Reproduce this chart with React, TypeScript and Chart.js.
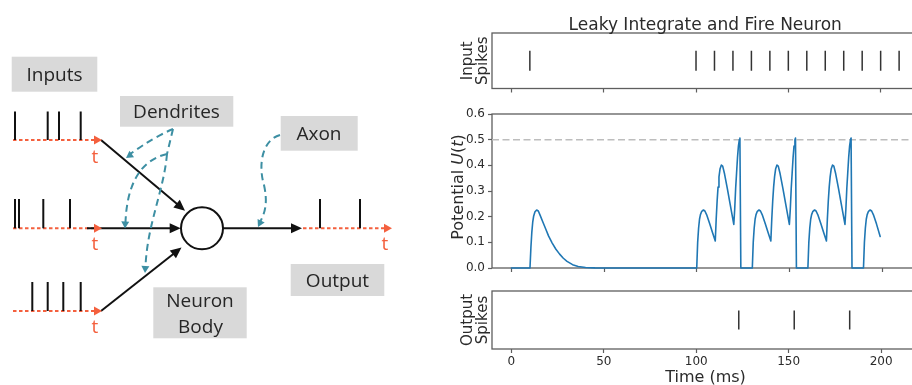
import React, { useEffect, useRef } from 'react';
import { Chart, registerables } from 'chart.js';

Chart.register(...registerables);

// ---------------- data ----------------
const chartTitle = 'Leaky Integrate and Fire Neuron';
const timeTicks = [0, 50, 100, 150, 200];
const potentialTicks = [0, 0.1, 0.2, 0.3, 0.4, 0.5, 0.6];
const inputSpikeTimes = [10, 100, 110, 120, 130, 140, 150, 160, 170, 180, 190, 200, 210];
const outputSpikeTimes = [123, 153, 183];
const threshold = 0.5;

const potentialTime = [
  0, 10, 10.5, 11, 11.5, 12, 12.7, 13.6, 14.5, 15.5, 17, 18.5, 20, 22, 24, 26, 28, 30, 33, 36, 40, 45, 50,
  100, 100.5, 101, 101.5, 102, 102.7, 103.6, 104.4, 105.5, 107, 108.5, 110,
  110.5, 111, 111.5, 112, 112.6, 113.3, 114, 115, 116.5, 118, 119, 120,
  120.5, 121, 121.5, 122, 122.5, 123, 123.3, 123.8,
  130, 130.5, 131, 131.5, 132, 132.7, 133.6, 134.4, 135.5, 137, 138.5, 140,
  140.5, 141, 141.5, 142, 142.6, 143.3, 144, 145, 146.5, 148, 149, 150,
  150.5, 151, 151.5, 152, 152.5, 153, 153.3, 153.8,
  160, 160.5, 161, 161.5, 162, 162.7, 163.6, 164.4, 165.5, 167, 168.5, 170,
  170.5, 171, 171.5, 172, 172.6, 173.3, 174, 175, 176.5, 178, 179, 180,
  180.5, 181, 181.5, 182, 182.5, 183, 183.3, 183.8,
  190, 190.5, 191, 191.5, 192, 192.7, 193.6, 194.4, 195.5, 197, 199,
];
const potentialValue = [
  0, 0, 0.08, 0.14, 0.18, 0.203, 0.219, 0.226, 0.222, 0.205, 0.178, 0.152, 0.125, 0.097, 0.073, 0.054, 0.038, 0.026, 0.013, 0.006, 0.002, 0.0005, 0,
  0, 0.1, 0.155, 0.19, 0.208, 0.221, 0.226, 0.222, 0.205, 0.172, 0.138, 0.105,
  0.19, 0.26, 0.315, 0.355, 0.387, 0.401, 0.397, 0.367, 0.31, 0.25, 0.21, 0.17,
  0.23, 0.31, 0.37, 0.43, 0.475, 0.5, 0.506, 0,
  0, 0.1, 0.155, 0.19, 0.208, 0.221, 0.226, 0.222, 0.205, 0.172, 0.138, 0.105,
  0.19, 0.26, 0.315, 0.355, 0.387, 0.401, 0.397, 0.367, 0.31, 0.25, 0.21, 0.17,
  0.23, 0.31, 0.37, 0.43, 0.475, 0.5, 0.506, 0,
  0, 0.1, 0.155, 0.19, 0.208, 0.221, 0.226, 0.222, 0.205, 0.172, 0.138, 0.105,
  0.19, 0.26, 0.315, 0.355, 0.387, 0.401, 0.397, 0.367, 0.31, 0.25, 0.21, 0.17,
  0.23, 0.31, 0.37, 0.43, 0.475, 0.5, 0.506, 0,
  0, 0.1, 0.155, 0.19, 0.208, 0.221, 0.226, 0.222, 0.205, 0.172, 0.123,
];

// diagram spike trains (positions along each diagram time axis)
const diagramSpikesTop = [15, 47.7, 59, 80.7];
const diagramSpikesMid = [15, 19, 43.3, 70];
const diagramSpikesBottom = [32.3, 47.7, 63.3, 80.7];
const diagramSpikesOut = [320, 360];

// ---------------- styling ----------------
const X_MIN = -10.5;
const X_MAX = 220.5;
const AXIS_COLOR = '#5e5e5e';
const TEXT_COLOR = '#2b2b2b';
const TICK_FONT = { family: 'DejaVu Sans', size: 12 };
const LINE_BLUE = '#1f77b4';
const RED = '#f4603e';
const TEAL = '#3d8fa3';
const BOX_FILL = '#d9d9d9';

type Run = { text: string; italic?: boolean };

function framePlugin() {
  return {
    id: 'frameBox',
    beforeDatasetsDraw(chart: any) {
      const { ctx, chartArea: a } = chart;
      ctx.save();
      ctx.strokeStyle = AXIS_COLOR;
      ctx.lineWidth = 1.3;
      ctx.strokeRect(a.left, a.top, a.right - a.left, a.bottom - a.top);
      ctx.restore();
    },
  };
}

function yLabelPlugin(lines: Run[][], baselineXs: number[], size: number, dy = 0) {
  return {
    id: 'yLabel',
    afterDraw(chart: any) {
      const { ctx, chartArea: a } = chart;
      const cy = (a.top + a.bottom) / 2 + dy;
      lines.forEach((runs, i) => {
        ctx.save();
        ctx.translate(baselineXs[i], cy);
        ctx.rotate(-Math.PI / 2);
        ctx.fillStyle = TEXT_COLOR;
        ctx.textBaseline = 'alphabetic';
        ctx.textAlign = 'left';
        const fonts = runs.map((r) => `${r.italic ? 'italic ' : ''}${size}px "DejaVu Sans"`);
        let total = 0;
        const widths = runs.map((r, j) => {
          ctx.font = fonts[j];
          const w = ctx.measureText(r.text).width;
          total += w;
          return w;
        });
        let x = -total / 2;
        runs.forEach((r, j) => {
          ctx.font = fonts[j];
          ctx.fillText(r.text, x, 0);
          x += widths[j];
        });
        ctx.restore();
      });
    },
  };
}

function textPlugin(id: string, text: string, baselineY: number, size: number) {
  return {
    id,
    afterDraw(chart: any) {
      const { ctx, chartArea: a } = chart;
      ctx.save();
      ctx.font = `${size}px "DejaVu Sans"`;
      ctx.fillStyle = TEXT_COLOR;
      ctx.textAlign = 'center';
      ctx.textBaseline = 'alphabetic';
      ctx.fillText(text, (a.left + a.right) / 2, baselineY);
      ctx.restore();
    },
  };
}

function makeXScale(height: number, labels: boolean) {
  return {
    type: 'linear',
    min: X_MIN,
    max: X_MAX,
    afterBuildTicks: (s: any) => {
      s.ticks = timeTicks.map((v) => ({ value: v }));
    },
    afterFit: (s: any) => {
      s.height = height;
    },
    border: { display: false },
    grid: { display: true, drawOnChartArea: false, drawTicks: true, tickLength: 4, tickWidth: 1.2, tickColor: AXIS_COLOR },
    ticks: { display: labels, color: TEXT_COLOR, font: TICK_FONT, padding: 2, maxRotation: 0, autoSkip: false, callback: (v: any) => String(v) },
  };
}

function spikeYScale() {
  return {
    type: 'linear',
    min: 0,
    max: 1,
    afterFit: (s: any) => {
      s.width = 52;
    },
    border: { display: false },
    grid: { display: false },
    ticks: { display: false },
  };
}

const baseOptions = {
  responsive: false,
  animation: false as const,
  events: [] as any[],
  plugins: { legend: { display: false }, tooltip: { enabled: false }, title: { display: false } },
};

function spikeDataset(times: number[], radius: number) {
  return {
    data: times.map((t) => ({ x: t, y: 0.5 })),
    pointStyle: 'line',
    rotation: 90,
    pointRadius: radius,
    pointBorderWidth: 1.5,
    pointBorderColor: '#333333',
    pointBackgroundColor: '#333333',
    showLine: false,
  };
}

function spikeSegments(xs: number[], base: number, height: number) {
  const pts: any[] = [];
  xs.forEach((x) => {
    pts.push({ x, y: base }, { x, y: base - height }, { x, y: null });
  });
  return pts;
}

// ---------------- diagram drawing ----------------
function arrowHead(ctx: CanvasRenderingContext2D, tipX: number, tipY: number, fromX: number, fromY: number, len: number, halfW: number, color: string) {
  const ang = Math.atan2(tipY - fromY, tipX - fromX);
  const bx = tipX - Math.cos(ang) * len;
  const by = tipY - Math.sin(ang) * len;
  const nx = -Math.sin(ang) * halfW;
  const ny = Math.cos(ang) * halfW;
  ctx.save();
  ctx.setLineDash([]);
  ctx.beginPath();
  ctx.moveTo(tipX, tipY);
  ctx.lineTo(bx + nx, by + ny);
  ctx.lineTo(bx - nx, by - ny);
  ctx.closePath();
  ctx.fillStyle = color;
  ctx.fill();
  ctx.restore();
}

const ROWS = [140, 228.3, 311];

const diagramPlugin = {
  id: 'neuronDiagram',
  beforeDatasetsDraw(chart: any) {
    const { ctx } = chart;
    const sx = chart.scales.x;
    const sy = chart.scales.y;
    const X = (v: number) => sx.getPixelForValue(v);
    const Y = (v: number) => sy.getPixelForValue(v);
    ctx.save();
    // label boxes
    ctx.fillStyle = BOX_FILL;
    const boxes = [
      [11.7, 56.7, 97.3, 91.7],
      [120, 96, 233.3, 126.7],
      [280.7, 116, 357.7, 150.7],
      [290.7, 264, 384.3, 296],
      [153.3, 287.3, 246.7, 338.3],
    ];
    boxes.forEach(([x0, y0, x1, y1]) => {
      ctx.fillRect(X(x0), Y(y0), X(x1) - X(x0), Y(y1) - Y(y0));
    });

    // red dashed time axes
    ctx.strokeStyle = RED;
    ctx.lineWidth = 2;
    ctx.setLineDash([3.5, 2.5]);
    ROWS.forEach((ry) => {
      ctx.beginPath();
      ctx.moveTo(X(13), Y(ry));
      ctx.lineTo(X(95), Y(ry));
      ctx.stroke();
    });
    ctx.beginPath();
    ctx.moveTo(X(303), Y(ROWS[1]));
    ctx.lineTo(X(386), Y(ROWS[1]));
    ctx.stroke();
    ctx.setLineDash([]);

    // black arrows into and out of the neuron
    ctx.strokeStyle = '#111111';
    ctx.lineWidth = 2;
    const arrows = [
      [101, 140, 185, 210.7],
      [87, 228.3, 180.7, 228.3],
      [101, 311, 181.5, 247.5],
      [223, 228.3, 302, 228.3],
    ];
    arrows.forEach(([x0, y0, x1, y1]) => {
      const ang = Math.atan2(Y(y1) - Y(y0), X(x1) - X(x0));
      ctx.beginPath();
      ctx.moveTo(X(x0), Y(y0));
      ctx.lineTo(X(x1) - Math.cos(ang) * 8, Y(y1) - Math.sin(ang) * 8);
      ctx.stroke();
      arrowHead(ctx, X(x1), Y(y1), X(x0), Y(y0), 11, 5, '#111111');
    });

    // neuron body
    ctx.beginPath();
    ctx.arc(X(202), Y(228.3), 21, 0, Math.PI * 2);
    ctx.fillStyle = '#ffffff';
    ctx.fill();
    ctx.lineWidth = 2;
    ctx.strokeStyle = '#111111';
    ctx.stroke();

    // red arrow heads
    ROWS.forEach((ry) => arrowHead(ctx, X(102), Y(ry), X(90), Y(ry), 8, 4.5, RED));
    arrowHead(ctx, X(392), Y(ROWS[1]), X(380), Y(ROWS[1]), 8, 4.5, RED);

    // teal dashed pointers
    ctx.strokeStyle = TEAL;
    ctx.lineWidth = 2;
    ctx.setLineDash([7, 4.5]);
    // dendrites -> top input
    ctx.beginPath();
    ctx.moveTo(X(173), Y(129));
    ctx.quadraticCurveTo(X(152), Y(138), X(129), Y(155));
    ctx.stroke();
    // stem
    ctx.beginPath();
    ctx.moveTo(X(173), Y(129));
    ctx.lineTo(X(167), Y(154));
    ctx.stroke();
    // branch to middle input
    ctx.beginPath();
    ctx.moveTo(X(167), Y(154));
    ctx.bezierCurveTo(X(140), Y(160), X(127), Y(185), X(125.5), Y(222));
    ctx.stroke();
    // branch to bottom input
    ctx.beginPath();
    ctx.moveTo(X(167), Y(154));
    ctx.bezierCurveTo(X(164), Y(190), X(147), Y(225), X(145.5), Y(267));
    ctx.stroke();
    // axon pointer
    ctx.beginPath();
    ctx.moveTo(X(280), Y(135));
    ctx.bezierCurveTo(X(262), Y(140), X(258), Y(165), X(264), Y(185));
    ctx.bezierCurveTo(X(268), Y(203), X(265), Y(213), X(260), Y(222));
    ctx.stroke();
    ctx.setLineDash([]);
    arrowHead(ctx, X(126), Y(158), X(152), Y(140), 7, 4, TEAL);
    arrowHead(ctx, X(125), Y(228.5), X(126), Y(200), 7, 4, TEAL);
    arrowHead(ctx, X(145), Y(273), X(146.5), Y(245), 7, 4, TEAL);
    arrowHead(ctx, X(258), Y(227), X(265), Y(213), 7, 4, TEAL);
    ctx.restore();
  },
  afterDatasetsDraw(chart: any) {
    const { ctx } = chart;
    const sx = chart.scales.x;
    const sy = chart.scales.y;
    const X = (v: number) => sx.getPixelForValue(v);
    const Y = (v: number) => sy.getPixelForValue(v);
    ctx.save();
    ctx.font = '19px "Open Sans"';
    ctx.textAlign = 'center';
    ctx.textBaseline = 'alphabetic';
    ctx.fillStyle = '#262626';
    const labels: [string, number, number][] = [
      ['Inputs', 54.5, 80.7],
      ['Dendrites', 176.5, 118.3],
      ['Axon', 319, 140],
      ['Output', 337.5, 286.7],
      ['Neuron', 200, 306.7],
      ['Body', 200.5, 332.7],
    ];
    labels.forEach(([t, x, y]) => ctx.fillText(t, X(x), Y(y)));
    ctx.fillStyle = RED;
    const tl: [number, number][] = [
      [95, 162.7],
      [95, 250],
      [95, 332.7],
      [385, 250],
    ];
    tl.forEach(([x, y]) => ctx.fillText('t', X(x), Y(y)));
    ctx.restore();
  },
};

export default function App() {
  const diagRef = useRef<HTMLCanvasElement>(null);
  const topRef = useRef<HTMLCanvasElement>(null);
  const midRef = useRef<HTMLCanvasElement>(null);
  const botRef = useRef<HTMLCanvasElement>(null);

  useEffect(() => {
    const charts: Chart[] = [];

    const spikeLine = (pts: any[]) => ({
      data: pts,
      showLine: true,
      spanGaps: false,
      borderColor: '#111111',
      borderWidth: 2,
      pointRadius: 0,
    });

    charts.push(
      new Chart(diagRef.current as HTMLCanvasElement, {
        type: 'scatter',
        data: {
          datasets: [
            spikeLine(spikeSegments(diagramSpikesTop, ROWS[0], 28.5)),
            spikeLine(spikeSegments(diagramSpikesMid, ROWS[1], 29.3)),
            spikeLine(spikeSegments(diagramSpikesBottom, ROWS[2], 29)),
            spikeLine(spikeSegments(diagramSpikesOut, ROWS[1], 29.3)),
          ] as any,
        },
        options: {
          ...baseOptions,
          layout: { padding: 0 },
          scales: {
            x: { type: 'linear', display: false, min: 0, max: 440 },
            y: { type: 'linear', display: false, min: 0, max: 385, reverse: true },
          },
        } as any,
        plugins: [diagramPlugin],
      })
    );

    charts.push(
      new Chart(topRef.current as HTMLCanvasElement, {
        type: 'scatter',
        data: { datasets: [spikeDataset(inputSpikeTimes, 10)] as any },
        options: {
          ...baseOptions,
          layout: { padding: { top: 33, right: 10, left: 0, bottom: 0 } },
          scales: { x: makeXScale(4, false), y: spikeYScale() },
        } as any,
        plugins: [
          framePlugin(),
          textPlugin('figTitle', chartTitle, 29.5, 17),
          yLabelPlugin([[{ text: 'Input' }], [{ text: 'Spikes' }]], [31.5, 47], 15),
        ],
      })
    );

    charts.push(
      new Chart(midRef.current as HTMLCanvasElement, {
        type: 'scatter',
        data: {
          datasets: [
            {
              data: potentialTime.map((t, i) => ({ x: t, y: potentialValue[i] })),
              showLine: true,
              borderColor: LINE_BLUE,
              borderWidth: 1.6,
              borderJoinStyle: 'round',
              borderCapStyle: 'round',
              pointRadius: 0,
              tension: 0,
              clip: false,
            },
            {
              data: [
                { x: X_MIN, y: threshold },
                { x: X_MAX, y: threshold },
              ],
              showLine: true,
              borderColor: '#bdbdbd',
              borderWidth: 1.5,
              borderDash: [7, 3.5],
              pointRadius: 0,
            },
          ] as any,
        },
        options: {
          ...baseOptions,
          layout: { padding: { top: 14, right: 10, left: 0, bottom: 0 } },
          scales: {
            x: makeXScale(12, false),
            y: {
              type: 'linear',
              min: 0,
              max: 0.6,
              afterBuildTicks: (s: any) => {
                s.ticks = potentialTicks.map((v) => ({ value: v }));
              },
              afterFit: (s: any) => {
                s.width = 52;
              },
              border: { display: false },
              grid: { display: true, drawOnChartArea: false, drawTicks: true, tickLength: 4, tickWidth: 1.2, tickColor: AXIS_COLOR },
              ticks: { color: TEXT_COLOR, font: TICK_FONT, padding: 3, callback: (v: any) => Number(v).toFixed(1) },
            },
          },
        } as any,
        plugins: [
          framePlugin(),
          yLabelPlugin([[{ text: 'Potential ' }, { text: 'U', italic: true }, { text: '(' }, { text: 't', italic: true }, { text: ')' }]], [22.5], 16, -4),
        ],
      })
    );

    charts.push(
      new Chart(botRef.current as HTMLCanvasElement, {
        type: 'scatter',
        data: { datasets: [spikeDataset(outputSpikeTimes, 9.5)] as any },
        options: {
          ...baseOptions,
          layout: { padding: { top: 7, right: 10, left: 0, bottom: 0 } },
          scales: { x: makeXScale(36, true), y: spikeYScale() },
        } as any,
        plugins: [
          framePlugin(),
          textPlugin('xTitle', 'Time (ms)', 101.5, 16),
          yLabelPlugin([[{ text: 'Output' }], [{ text: 'Spikes' }]], [31.5, 47], 15),
        ],
      })
    );

    return () => {
      charts.forEach((c) => c.destroy());
    };
  }, []);

  const abs = (left: number, top: number, w: number, h: number): React.CSSProperties => ({
    position: 'absolute',
    left,
    top,
    width: w,
    height: h,
    display: 'block',
  });

  return (
    <div style={{ position: 'absolute', left: 0, top: 0, width: 912, height: 385, overflow: 'hidden', background: '#ffffff' }}>
      <canvas ref={diagRef} width={440} height={385} style={abs(0, 0, 440, 385)} />
      <canvas ref={topRef} width={490} height={100} style={abs(440, 0, 490, 100)} />
      <canvas ref={midRef} width={490} height={180} style={abs(440, 100, 490, 180)} />
      <canvas ref={botRef} width={490} height={105} style={abs(440, 280, 490, 105)} />
    </div>
  );
}
